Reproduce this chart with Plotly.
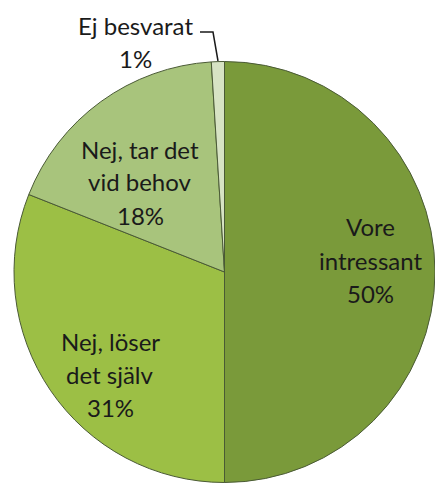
import plotly.graph_objects as go

labels = ["Vore intressant", "Nej, löser det själv", "Nej, tar det vid behov", "Ej besvarat"]
label_lines = [["Vore", "intressant"], ["Nej, löser", "det själv"], ["Nej, tar det", "vid behov"], ["Ej besvarat"]]
values = [50, 31, 18, 1]
colors = ["#7a9a3a", "#9cbf45", "#a8c47c", "#d7e3c4"]

W, H = 435, 486

fig = go.Figure(go.Pie(
    labels=labels, values=values, sort=False, direction="clockwise", rotation=0,
    marker=dict(colors=colors, line=dict(color="#4a5a35", width=1)),
    textinfo="none", hoverinfo="label+percent", showlegend=False,
    domain=dict(x=[14/W, 1.0], y=[3/H, 425/H]),
))

# label positions (pixel centers of first line) and line spacing
pos = [(370, 227), (110, 341), (140, 149), (135, 26)]
spacing = 33
anns = []
for (cx, cy), lines, v in zip(pos, label_lines, values):
    all_lines = lines + [f"{v}%"]
    for i, t in enumerate(all_lines):
        anns.append(dict(x=cx / W, y=1 - (cy + i * spacing) / H, xref="paper", yref="paper",
                         text=t, showarrow=False, xanchor="center", yanchor="middle",
                         font=dict(family="Lato", size=24, color="#1a1a1a")))

fig.update_layout(
    width=W, height=H, margin=dict(l=0, r=0, t=0, b=0),
    paper_bgcolor="white", plot_bgcolor="white",
    annotations=anns,
    shapes=[dict(type="path", xref="paper", yref="paper",
                 path=f"M {200/W} {1-32/H} L {213/W} {1-32/H} L {218/W} {1-61/H}",
                 line=dict(color="#1a1a1a", width=1.5))],
)

fig.write_html("out.html", config={"displayModeBar": False},
               post_script="document.body.style.margin='0';document.body.style.overflow='hidden';")
